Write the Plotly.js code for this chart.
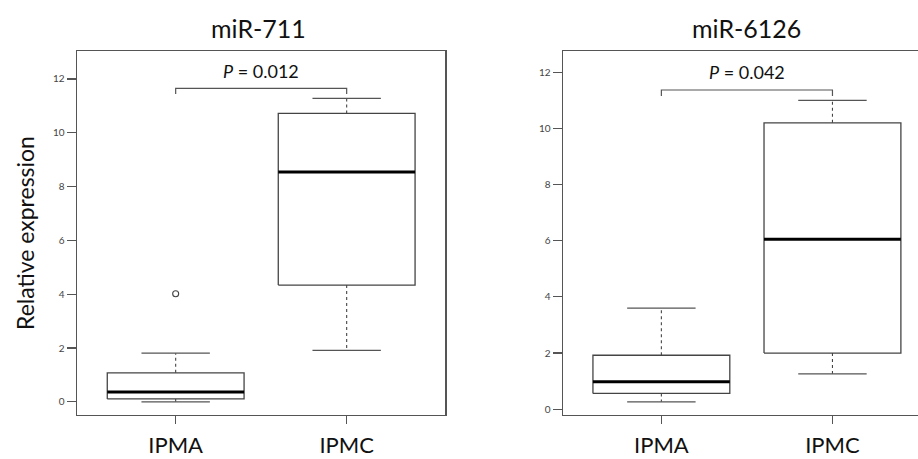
<!DOCTYPE html>
<html>
<head>
<meta charset="utf-8">
<script src="https://cdn.plot.ly/plotly-3.0.1.min.js"></script>
<style>html,body{margin:0;padding:0;background:#fff;}#chart{width:918px;height:459px;}</style>
</head>
<body>
<div id="chart"></div>
<script>
// ---- data ----
var categories = ['IPMA', 'IPMC'];
var panelTitles = ['miR-711', 'miR-6126'];
var pValues = ['0.012', '0.042'];
var yTickVals = [0, 2, 4, 6, 8, 10, 12];

var mir711Lower  = [0.00, 1.91];
var mir711Q1     = [0.11, 4.34];
var mir711Median = [0.37, 8.54];
var mir711Q3     = [1.08, 10.72];
var mir711Upper  = [1.81, 11.28];
var mir711Outliers = [[4.02], []];

var mir6126Lower  = [0.26, 1.26];
var mir6126Q1     = [0.56, 2.00];
var mir6126Median = [0.98, 6.05];
var mir6126Q3     = [1.92, 10.20];
var mir6126Upper  = [3.60, 11.00];
var mir6126Outliers = [[], []];

// ---- drawing ----
var FONT = 'Lato, "Open Sans", sans-serif';
var traces = [];
var annotations = [];

function addPanel(ax, lower, q1, med, q3, upper, outl, maxVal) {
  var xa = 'x' + (ax === 1 ? '' : ax), ya = 'y' + (ax === 1 ? '' : ax);
  var hw = 0.4, cw = 0.2;
  var bx = [], by = [], mx = [], my = [], wx = [], wy = [], cx = [], cy = [], ox = [], oy = [];
  for (var i = 0; i < categories.length; i++) {
    var c = i + 1;
    bx.push(c - hw, c + hw, c + hw, c - hw, c - hw, null);
    by.push(q1[i], q1[i], q3[i], q3[i], q1[i], null);
    mx.push(c - hw, c + hw, null); my.push(med[i], med[i], null);
    wx.push(c, c, null, c, c, null); wy.push(q3[i], upper[i], null, q1[i], lower[i], null);
    cx.push(c - cw, c + cw, null, c - cw, c + cw, null);
    cy.push(upper[i], upper[i], null, lower[i], lower[i], null);
    for (var k = 0; k < outl[i].length; k++) { ox.push(c); oy.push(outl[i][k]); }
  }
  var base = {type: 'scatter', mode: 'lines', xaxis: xa, yaxis: ya, showlegend: false, hoverinfo: 'skip'};
  traces.push(Object.assign({}, base, {x: wx, y: wy, line: {color: '#444', width: 1.1, dash: '3px,3px'}}));
  traces.push(Object.assign({}, base, {x: cx, y: cy, line: {color: '#555', width: 1.3}}));
  traces.push(Object.assign({}, base, {x: bx, y: by, line: {color: '#444', width: 1.3}}));
  traces.push(Object.assign({}, base, {x: mx, y: my, line: {color: '#000', width: 3}}));
  if (ox.length) traces.push({type: 'scatter', mode: 'markers', x: ox, y: oy, xaxis: xa, yaxis: ya, showlegend: false,
    marker: {symbol: 'circle-open', size: 6, color: '#444', line: {width: 1.1}}});
  // significance bracket above the groups
  var top = maxVal + 0.37, drop = maxVal + 0.16;
  traces.push(Object.assign({}, base, {x: [1, 1, 2, 2], y: [drop, top, top, drop], line: {color: '#555', width: 1.2}}));
  annotations.push({xref: xa, yref: ya, x: 1.5, y: top + 0.64, text: '<i>P</i> = ' + pValues[ax - 1],
    showarrow: false, font: {family: FONT, size: 18, color: '#111'}, xanchor: 'center', yanchor: 'middle'});
}

addPanel(1, mir711Lower, mir711Q1, mir711Median, mir711Q3, mir711Upper, mir711Outliers, Math.max.apply(null, mir711Upper));
addPanel(2, mir6126Lower, mir6126Q1, mir6126Median, mir6126Q3, mir6126Upper, mir6126Outliers, Math.max.apply(null, mir6126Upper));

annotations.push({xref: 'paper', yref: 'paper', x: 258 / 918, y: 1 - 28 / 459, text: panelTitles[0], showarrow: false,
  font: {family: FONT, size: 25, color: '#111'}, xanchor: 'center', yanchor: 'middle'});
annotations.push({xref: 'paper', yref: 'paper', x: 746 / 918, y: 1 - 28 / 459, text: panelTitles[1], showarrow: false,
  font: {family: FONT, size: 25, color: '#111'}, xanchor: 'center', yanchor: 'middle'});
annotations.push({xref: 'paper', yref: 'paper', x: 25 / 918, y: 1 - 233 / 459, text: 'Relative expression', textangle: -90,
  showarrow: false, font: {family: FONT, size: 23, color: '#111'}, xanchor: 'center', yanchor: 'middle'});

var yDom = [(459 - 414.5) / 459, (459 - 51) / 459];
function xAxis(dom, rng) {
  return {domain: dom, range: rng, tickmode: 'array', tickvals: [1, 2], ticktext: categories,
    ticks: 'outside', ticklen: 8, tickcolor: '#555', tickwidth: 1.2, ticklabelstandoff: 3,
    showline: true, mirror: true, linecolor: '#555', linewidth: 1.5, showgrid: false, zeroline: false,
    tickfont: {family: FONT, size: 22, color: '#111'}, fixedrange: true};
}
function yAxis(rng, anchor, mirror) {
  return {domain: yDom, range: rng, anchor: anchor, tickmode: 'array', tickvals: yTickVals,
    ticks: 'outside', ticklen: 9, tickcolor: '#555', tickwidth: 1.2,
    showline: true, mirror: mirror, linecolor: '#555', linewidth: 1.5, showgrid: false, zeroline: false,
    tickfont: {family: FONT, size: 10, color: '#444'}, fixedrange: true};
}

var layout = {
  width: 918, height: 459, margin: {l: 0, r: 0, t: 0, b: 0},
  paper_bgcolor: '#fff', plot_bgcolor: '#fff', showlegend: false,
  xaxis: Object.assign(xAxis([77 / 918, 445 / 918], [0.423, 2.575]), {anchor: 'y'}),
  yaxis: yAxis([-0.47, 13.04], 'x', true),
  xaxis2: Object.assign(xAxis([563 / 918, 1], [0.425, 2.50]), {anchor: 'y2'}),
  yaxis2: yAxis([-0.19, 12.76], 'x2', false),
  annotations: annotations
};

Plotly.newPlot('chart', traces, layout, {displayModeBar: false, staticPlot: true});
</script>
</body>
</html>
